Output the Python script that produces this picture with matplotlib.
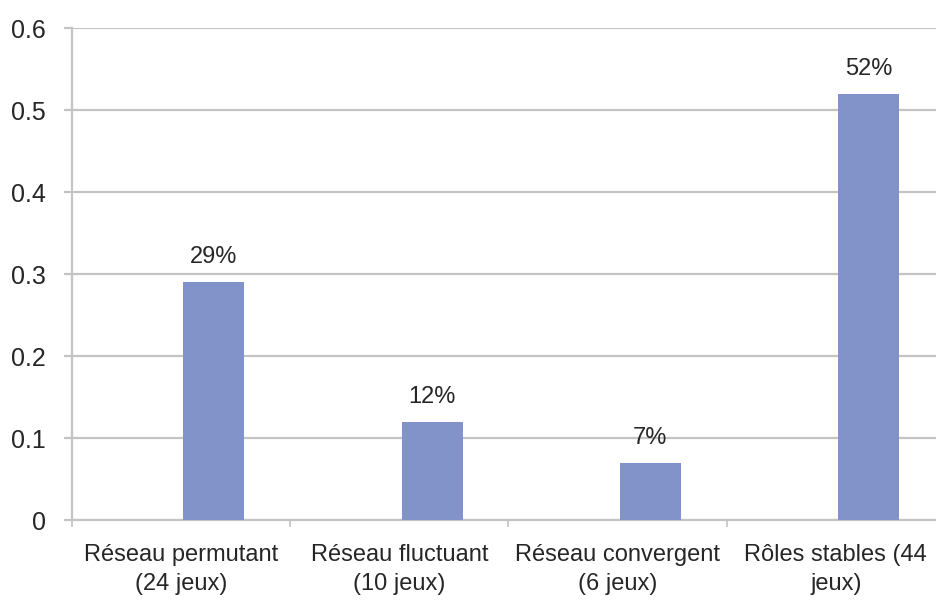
import matplotlib.pyplot as plt
import numpy as np

categories = ["Réseau permutant\n(24 jeux)", "Réseau fluctuant\n(10 jeux)",
              "Réseau convergent\n(6 jeux)", "Rôles stables (44\njeux)"]
shares = [0.29, 0.12, 0.07, 0.52]
labels = ["29%", "12%", "7%", "52%"]
yticks = [0, 0.1, 0.2, 0.3, 0.4, 0.5, 0.6]

plt.rcParams['font.family'] = ['Liberation Sans', 'DejaVu Sans']
grid_col = '#c4c4c4'
text_col = '#262626'

fig = plt.figure(figsize=(9.37, 6.04), dpi=100)
ax = fig.add_axes([0.0768, 0.139, 0.9317, 0.8146])

x = np.arange(len(categories))
offset = 0.15
bars = ax.bar(x + offset, shares, width=0.28, color='#8193c9', zorder=3)
for b, lab in zip(bars, labels):
    ax.annotate(lab, (b.get_x() + b.get_width() / 2, b.get_height()),
                xytext=(0, 10), textcoords='offset points',
                ha='center', va='bottom', fontsize=17, color=text_col)

ax.set_xlim(-0.5, len(categories) - 0.5)
ax.set_ylim(0, 0.6)
ax.set_yticks(yticks)
ax.set_yticklabels(['0' if v == 0 else f'{v:.1f}' for v in yticks])
ax.yaxis.grid(True, color=grid_col, linewidth=1.6, zorder=0)

ax.set_xticks(x)
ax.set_xticklabels(categories, fontsize=17, color=text_col, linespacing=1.45)
ax.set_xticks(np.arange(len(categories) + 1) - 0.5, minor=True)
ax.tick_params(axis='x', which='major', length=0, pad=17)
ax.tick_params(axis='x', which='minor', length=5, color=grid_col, width=1.2)
ax.tick_params(axis='y', length=6, color=grid_col, width=1.6,
               labelsize=18, labelcolor=text_col, pad=13)

for side in ['top', 'right']:
    ax.spines[side].set_visible(False)
for side in ['left', 'bottom']:
    ax.spines[side].set_color(grid_col)
    ax.spines[side].set_linewidth(1.6)

fig.savefig('out.png', dpi=100)
